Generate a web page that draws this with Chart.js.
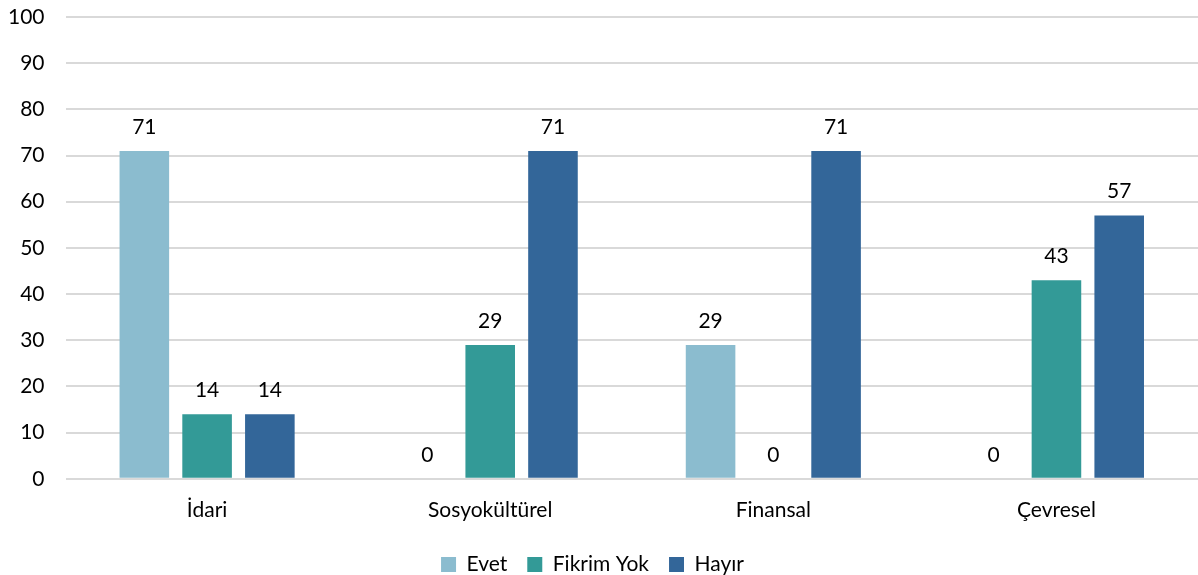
<!DOCTYPE html>
<html>
<head>
<meta charset="utf-8">
<script src="https://cdn.jsdelivr.net/npm/chart.js@4"></script>
<style>
  html, body { margin: 0; padding: 0; background: #fff; }
  #wrap { width: 1198px; height: 575px; }
</style>
</head>
<body>
<div id="wrap"><canvas id="barChart"></canvas></div>
<script>
const categories = ['İdari', 'Sosyokültürel', 'Finansal', 'Çevresel'];
const seriesNames = ['Evet', 'Fikrim Yok', 'Hayır'];
const evet = [71, 0, 29, 0];
const fikrimYok = [14, 29, 0, 43];
const hayir = [14, 71, 71, 57];
const colors = ['#8BBCCF', '#339A97', '#336699'];

const fontFamily = 'Lato, "Open Sans", sans-serif';
const fontSize = 21;

// draw the value above each bar
const valueLabels = {
    id: 'valueLabels',
    afterDatasetsDraw(chart) {
        const ctx = chart.ctx;
        ctx.save();
        ctx.font = fontSize + 'px ' + fontFamily;
        ctx.fillStyle = '#000';
        ctx.textAlign = 'center';
        ctx.textBaseline = 'middle';
        chart.data.datasets.forEach((ds, i) => {
            chart.getDatasetMeta(i).data.forEach((bar, j) => {
                ctx.fillText(ds.data[j], bar.x, bar.y - 24);
            });
        });
        ctx.restore();
    }
};

const ctx = document.getElementById('barChart').getContext('2d');
const chart = new Chart(ctx, {
    type: 'bar',
    data: {
        labels: categories,
        datasets: [
            { label: seriesNames[0], data: evet, backgroundColor: colors[0] },
            { label: seriesNames[1], data: fikrimYok, backgroundColor: colors[1] },
            { label: seriesNames[2], data: hayir, backgroundColor: colors[2] }
        ]
    },
    options: {
        responsive: true,
        maintainAspectRatio: false,
        animation: false,
        layout: { padding: { top: 0, right: 0, left: -13, bottom: -10 } },
        datasets: {
            bar: { categoryPercentage: 0.665, barPercentage: 0.79 }
        },
        scales: {
            x: {
                grid: { display: false },
                border: { display: false },
                ticks: { color: '#000', font: { size: fontSize, family: fontFamily }, padding: 11 }
            },
            y: {
                min: 0,
                max: 100,
                grid: { color: '#d9d9d9', lineWidth: 2, drawTicks: false },
                border: { display: false },
                ticks: { stepSize: 10, color: '#000', font: { size: fontSize, family: fontFamily }, padding: 21 },
                afterFit(scale) {
                    // tick padding is also added above the top label; keep only room for the label
                    scale.paddingTop = 17;
                }
            }
        },
        plugins: {
            legend: {
                position: 'bottom',
                labels: {
                    boxWidth: 15,
                    boxHeight: 15,
                    padding: 20,
                    color: '#000',
                    font: { size: fontSize, family: fontFamily }
                }
            },
            tooltip: { enabled: false }
        }
    },
    plugins: [valueLabels]
});
</script>
</body>
</html>
